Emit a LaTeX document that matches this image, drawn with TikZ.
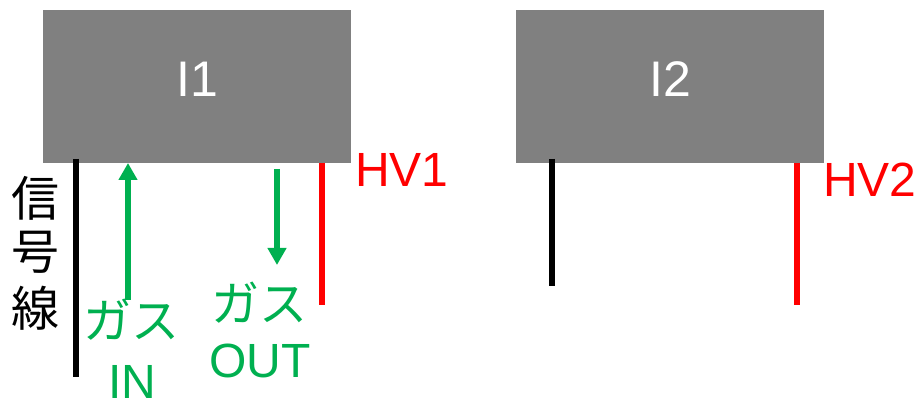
\documentclass[tikz,border=0pt]{standalone}
\usepackage{fontspec}
\setmainfont{Liberation Sans}
\newfontfamily\jpfont{Noto Sans CJK JP}
\usetikzlibrary{arrows.meta}
\definecolor{boxgray}{HTML}{808080}
\definecolor{gasgreen}{HTML}{00B050}
\definecolor{hvred}{HTML}{FF0000}
\begin{document}
\begin{tikzpicture}[x=1pt,y=-1pt,
  unit/.style={fill=boxgray, minimum width=308pt, minimum height=153pt,
    inner sep=0pt, text=white, text depth=14pt,
    font=\fontsize{50}{50}\selectfont},
  latin/.style={inner sep=0pt, font=\fontsize{48}{48}\selectfont},
  jp/.style={inner sep=0pt, font=\jpfont\fontsize{48}{48}\selectfont},
  wire/.style={line width=5.5pt},
  gas/.style={wire, draw=gasgreen, -{Triangle[width=18pt,length=17pt]}}]
\useasboundingbox (0,0) rectangle (920,403);

% detector units
\node[unit] (I1) at (197,86.5) {I1};
\node[unit] (I2) at (670,86.5) {I2};

% wire end points
\coordinate (sig1a) at (76,159);  \coordinate (sig1b) at (76,377);
\coordinate (hv1a)  at (322,163); \coordinate (hv1b)  at (322,305);
\coordinate (gin1)  at (128,300); \coordinate (gin2)  at (128,163);
\coordinate (gout1) at (277,169); \coordinate (gout2) at (277,265);
\coordinate (sig2a) at (552,159); \coordinate (sig2b) at (552,286);
\coordinate (hv2a)  at (797,163); \coordinate (hv2b)  at (797,305);

% wires
\draw[wire] (sig1a) -- (sig1b);
\draw[wire, draw=hvred] (hv1a) -- (hv1b);
\draw[gas] (gin1) -- (gin2);
\draw[gas] (gout1) -- (gout2);
\draw[wire] (sig2a) -- (sig2b);
\draw[wire, draw=hvred] (hv2a) -- (hv2b);

% labels
\node[jp] (sigA) at (35.5,198.5) {信};
\node[jp] (sigB) at (35.5,252) {号};
\node[jp] (sigC) at (35.5,308) {線};

\node[jp, text=gasgreen] (ginA) at (131,320) {ガス};
\node[latin, text=gasgreen] (ginB) at (132.5,382) {IN};
\node[jp, text=gasgreen] (goutA) at (259.5,302.5) {ガス};
\node[latin, text=gasgreen] (goutB) at (260,360.5) {OUT};

\node[latin, text=hvred] (hv1) at (402,169.5) {HV1};
\node[latin, text=hvred] (hv2) at (870,180) {HV2};
\end{tikzpicture}
\end{document}
